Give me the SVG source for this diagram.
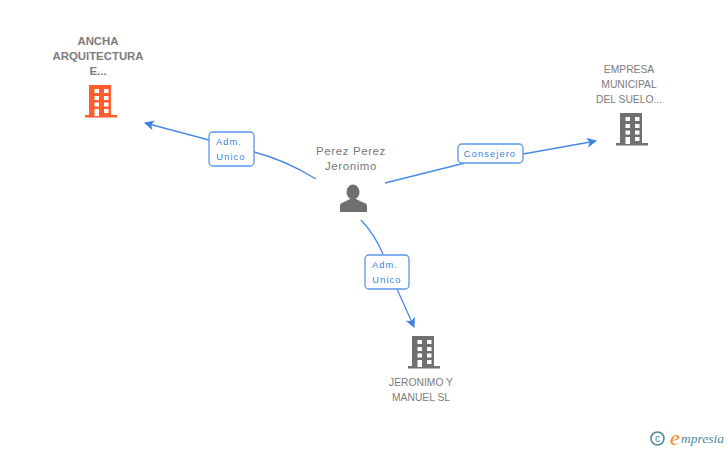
<svg xmlns="http://www.w3.org/2000/svg" width="728" height="450" viewBox="0 0 728 450">
<style>
text{font-family:"Liberation Sans",Arial,sans-serif}
.n{font-size:10.3px;fill:#7c7c7c;text-anchor:middle}
.p{font-size:11.5px;fill:#777;text-anchor:middle;letter-spacing:.6px}
.b{font-weight:bold;font-size:11.4px;fill:#7c7c7c;text-anchor:middle}
.l{font-size:9.3px;fill:#3b7fe0;text-anchor:middle;letter-spacing:1.1px}
.c{fill:none;stroke:#4a89e4;stroke-width:1.3}
.box{fill:#fff;stroke:#5b97ea;stroke-width:1.3}
.w{fill:#fff}
</style>
<defs>
<marker id="a" markerUnits="userSpaceOnUse" markerWidth="12" markerHeight="12" refX="9" refY="5" orient="auto"><path d="M0 0L10 5L0 10L2.500 5Z" fill="#3f83e2"/></marker>
<g id="bld">
<rect x="3" y="0" width="22" height="31"/><rect x="-1" y="30" width="32" height="2.500"/>
<g class="w"><rect x="8.500" y="4" width="4.500" height="4"/><rect x="18" y="4" width="4.500" height="4"/><rect x="8.500" y="11" width="4.500" height="4"/><rect x="18" y="11" width="4.500" height="4"/><rect x="8.500" y="17.500" width="4.500" height="4"/><rect x="18" y="17.500" width="4.500" height="4"/><rect x="8.500" y="24" width="4.500" height="7"/><rect x="18" y="24" width="4.500" height="4"/></g>
</g>
</defs>
<g id="connectors">
<path class="c" d="M316 179Q285 160 254 152M209 140L145 123" marker-end="url(#a)"/>
<path class="c" d="M385 183Q425 173 465 163M523 154L596 141" marker-end="url(#a)"/>
<path class="c" d="M361 220Q375 235 383 254M397 289L414 327" marker-end="url(#a)"/>
</g>
<g id="label-1"><rect class="box" x="209" y="132" width="45" height="34" rx="4"/><text class="l" x="229" y="145">Adm.</text><text class="l" x="231" y="160">Unico</text></g>
<g id="label-2"><rect class="box" x="458" y="144" width="65" height="19" rx="4"/><text class="l" x="490" y="157">Consejero</text></g>
<g id="label-3"><rect class="box" x="365" y="255" width="44" height="34" rx="4"/><text class="l" x="385" y="268">Adm.</text><text class="l" x="387" y="283">Unico</text></g>
<g id="node-ancha"><text class="b" x="98" y="45">ANCHA</text><text class="b" x="98" y="60">ARQUITECTURA</text><text class="b" x="98" y="75">E...</text><use href="#bld" x="86" y="85" fill="#ff5d2d"/></g>
<g id="node-perez"><text class="p" x="351" y="155">Perez Perez</text><text class="p" x="351" y="170">Jeronimo</text><ellipse cx="353" cy="192" rx="6.500" ry="7.500" fill="#6f6f6f"/><path d="M340 212V206Q340 203 344 202L350 199H356L362 202Q367 203 367 206V212Z" fill="#6f6f6f"/></g>
<g id="node-empresa"><text class="n" x="629" y="73">EMPRESA</text><text class="n" x="629" y="88">MUNICIPAL</text><text class="n" x="629" y="103">DEL SUELO...</text><use href="#bld" x="617" y="113" fill="#707070"/></g>
<g id="node-jeronimo"><text class="n" x="421" y="386">JERONIMO Y</text><text class="n" x="421" y="401">MANUEL SL</text><use href="#bld" x="409" y="336" fill="#707070"/></g>
<g id="brand"><circle cx="657.500" cy="438.500" r="6.500" fill="none" stroke="#4f8a9c" stroke-width="1.600"/><text x="657.500" y="442" font-size="10" fill="#4f8a9c" text-anchor="middle">c</text><text x="670" y="445" font-size="22" font-style="italic" fill="#f08a1d" style="font-family:'Liberation Serif',serif">e</text><text x="681" y="443" font-size="13.500" font-style="italic" fill="#4f8a9c" style="font-family:'Liberation Serif',serif">mpresia</text></g>
</svg>
